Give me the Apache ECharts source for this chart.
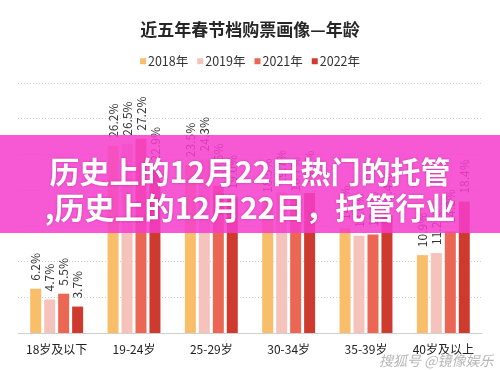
<!DOCTYPE html>
<html>
<head>
<meta charset="utf-8">
<script src="https://cdn.jsdelivr.net/npm/echarts@6/dist/echarts.min.js"></script>
<style>
html,body{margin:0;padding:0;background:#fff;}
#chart{width:500px;height:370px;}
</style>
</head>
<body>
<div id="chart"></div>
<script>
const categories = ['18岁及以下', '19-24岁', '25-29岁', '30-34岁', '35-39岁', '40岁及以上'];
const seriesNames = ['2018年', '2019年', '2021年', '2022年'];
const values2018 = [6.2, 26.2, 23.5, 18.5, 14.7, 10.9];
const values2019 = [4.7, 26.5, 24.3, 19.7, 13.6, 11.2];
const values2021 = [5.5, 27.2, 20.6, 18.7, 13.8, 14.2];
const values2022 = [3.7, 22.9, 19.0, 19.6, 16.4, 18.4];
const colors = ['#F8BE6A', '#F5C3BC', '#EC6753', '#CF3A2E'];
const titleText = '近五年春节档购票画像—年龄';
const bannerLine1 = '历史上的12月22日热门的托管';
const bannerLine2 = ',历史上的12月22日，托管行业';
const watermark = '搜狐号 @镜像娱乐';

const allValues = [values2018, values2019, values2021, values2022];
const font = '"Noto Sans CJK SC", "Noto Sans", sans-serif';

const chart = echarts.init(document.getElementById('chart'));
chart.setOption({
  animation: false,
  title: {
    text: titleText, left: 'center', top: 16,
    textStyle: { fontFamily: font, fontSize: 17, fontWeight: 'bold', color: '#262626' }
  },
  legend: {
    data: seriesNames, top: 50, left: 'center',
    icon: 'rect', itemWidth: 6, itemHeight: 6, itemGap: 9,
    textStyle: { fontFamily: font, fontSize: 12.5, color: '#333', padding: [0, 0, 0, -3] }
  },
  grid: { left: 18, right: 18, top: 83, bottom: 37 },
  xAxis: {
    type: 'category', data: categories,
    axisLine: { lineStyle: { color: '#cfcfcf' } },
    axisTick: { show: false },
    axisLabel: { interval: 0, fontFamily: font, fontSize: 12, color: '#222', margin: 10 }
  },
  yAxis: {
    type: 'value', min: 0, max: 35, interval: 5,
    axisLabel: { show: false }, axisLine: { show: false }, axisTick: { show: false },
    splitLine: { lineStyle: { type: [1, 2], color: '#cfcfcf' } }
  },
  series: seriesNames.map((name, i) => ({
    name, type: 'bar', data: allValues[i], barWidth: 11, barGap: '27%',
    itemStyle: { color: colors[i] },
    label: {
      show: true, position: 'top', rotate: 90, distance: 8,
      align: 'left', verticalAlign: 'middle',
      formatter: p => p.value.toFixed(1) + '%',
      fontFamily: font, fontSize: 12, color: '#333'
    }
  })),
  graphic: [
    { type: 'rect', left: 0, top: 135, z: 100,
      shape: { width: 500, height: 98 },
      style: { fill: 'rgba(246,62,206,0.86)' } },
    { type: 'text', left: 'center', top: 157, z: 101,
      style: { text: bannerLine1, fill: '#fff', font: 'bold 30px ' + font,
        textShadowColor: 'rgba(120,0,90,0.35)', textShadowBlur: 3 } },
    { type: 'text', left: 'center', top: 193, z: 101,
      style: { text: bannerLine2, fill: '#fff', font: 'bold 30px ' + font,
        textShadowColor: 'rgba(120,0,90,0.35)', textShadowBlur: 3 } },
    { type: 'text', right: 6, top: 353, z: 101,
      style: { text: watermark, fill: 'rgba(170,170,170,0.85)', font: 'italic 14px ' + font,
        stroke: 'rgba(255,255,255,0.9)', lineWidth: 1 } }
  ]
});
</script>
</body>
</html>
